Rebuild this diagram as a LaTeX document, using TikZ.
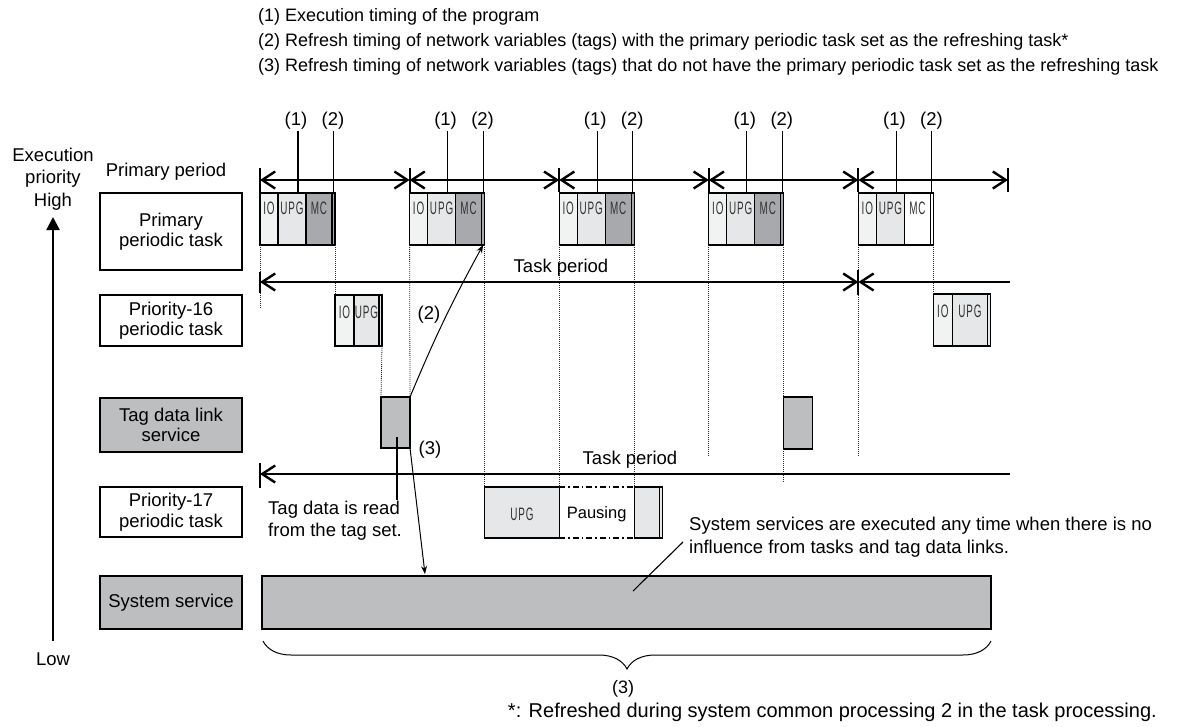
\documentclass[tikz,border=0pt]{standalone}
\usepackage{fontspec}
\setmainfont{Liberation Sans}
\newfontfamily\blkfont[FakeStretch=0.55,LetterSpace=5]{Liberation Sans}
\usetikzlibrary{arrows.meta,decorations.pathreplacing,calc}
\definecolor{cIO}{HTML}{F1F2F2}
\definecolor{cUPG}{HTML}{E6E7E8}
\definecolor{cMC}{HTML}{A7A9AC}
\definecolor{cGray}{HTML}{BCBEC0}
\tikzset{brb/.tip={Straight Barb[length=13pt,width=17pt]}}
\newcommand\pblock[3]{%
  \node[seg,fill=cIO,minimum width=18] (#1io) at (#2,193) {};
  \node[seg,fill=cUPG,minimum width=28] (#1upg) at (#2+18,193) {};
  \node[seg,fill=#3,minimum width=26] (#1mc) at (#2+46,193) {};
  \node[seg,fill=#3,minimum width=3] (#1st) at (#2+72,193) {};
  \node[blk] at ($(#1io.north)+(0,15)$) {IO};
  \node[blk] at ($(#1upg.north)+(0,15)$) {UPG};
  \node[blk] at ($(#1mc.north)+(0,15)$) {MC};
  \coordinate (#1a) at (#2+38,193);
  \coordinate (#1b) at (#2+73.5,193);
  \node[lbl] (#1l1) at (#2+36,121) {(1)};
  \node[lbl] (#1l2) at (#2+73,121) {(2)};
  \draw[thinln] (#1a |- #1l1.south) -- (#1a);
  \draw[thinln] (#1b |- #1l2.south) -- (#1b);
}
\begin{document}
\begin{tikzpicture}[x=1pt,y=-1pt,
  lbl/.style={font=\fontsize{18.5}{22.5}\selectfont, align=center, inner sep=1pt},
  hdr/.style={font=\fontsize{18}{21}\selectfont, inner sep=0pt},
  leftbox/.style={draw, line width=1.4pt, minimum width=142, align=center, font=\fontsize{18.5}{20.5}\selectfont, inner sep=0pt},
  seg/.style={draw, line width=1.3pt, inner sep=0pt, outer sep=0pt, anchor=north west, minimum height=52},
  blk/.style={font=\blkfont\fontsize{18}{18}\selectfont, text=black!80, inner sep=0pt},
  per/.style={line width=2.4pt, brb-brb},
  perl/.style={line width=2.4pt, brb-},
  tickln/.style={line width=2pt},
  dot/.style={line width=0.8pt, dash pattern=on 1pt off 1pt, black!85},
  thinln/.style={line width=1.1pt},
  thinarr/.style={line width=1pt, -{Stealth[length=8pt,width=6pt]}},
]
\useasboundingbox (0,0) rectangle (1180,726);

% header
\node[hdr, anchor=west] (h1) at (258,17) {(1) Execution timing of the program};
\node[hdr, anchor=west] (h2) at (258,42) {(2) Refresh timing of network variables (tags) with the primary periodic task set as the refreshing task*};
\node[hdr, anchor=west] (h3) at (258,67) {(3) Refresh timing of network variables (tags) that do not have the primary periodic task set as the refreshing task};

% left axis
\node[lbl] (high) at (53,179) {Execution\\priority\\High};
\node[lbl] (low) at (53,659) {Low};
\coordinate (axbot) at (53,641);
\coordinate (axtop) at (53,217);
\draw[line width=2.2pt, -{Triangle[length=13pt,width=13pt]}] (axbot) -- (axtop);
\node[lbl] (pp) at (166,172) {Primary period};

% left boxes
\node[leftbox, minimum height=77] (lb1) at (171,231.5) {Primary\\periodic task};
\node[leftbox, minimum height=51] (lb2) at (171,320.5) {Priority-16\\periodic task};
\node[leftbox, minimum height=54, fill=cGray] (lb3) at (171,425) {Tag data link\\service};
\node[leftbox, minimum height=50] (lb4) at (171,512) {Priority-17\\periodic task};
\node[leftbox, minimum height=53, fill=cGray] (lb5) at (171,602.5) {System service};

% primary period arrows
\foreach \i in {0,...,5} {
  \coordinate (pt\i) at (260+149.6*\i,180);
  \draw[tickln] ($(pt\i)+(0,-12)$) -- ($(pt\i)+(0,12)$);
}
\foreach \i/\j in {0/1,1/2,2/3,3/4,4/5} \draw[per] (pt\i) -- (pt\j);

% primary blocks
\pblock{b1}{260}{cMC}
\pblock{b2}{409.6}{cMC}
\pblock{b3}{559.2}{cMC}
\pblock{b4}{708.8}{cMC}
\pblock{b5}{858.4}{white}

% priority-16 blocks
\node[seg,fill=cIO,minimum width=19,minimum height=51] (p16aio) at (335,295) {};
\node[seg,fill=cUPG,minimum width=25,minimum height=51] (p16aupg) at (354,295) {};
\node[seg,fill=cUPG,minimum width=3,minimum height=51] (p16ast) at (379,295) {};
\node[blk] at ($(p16aio.north)+(0,17)$) {IO};
\node[blk] at ($(p16aupg.north)+(0,17)$) {UPG};
\node[seg,fill=cIO,minimum width=19,minimum height=52] (p16bio) at (933.4,294) {};
\node[seg,fill=cUPG,minimum width=35,minimum height=52] (p16bupg) at (952.4,294) {};
\node[seg,fill=cUPG,minimum width=3,minimum height=52] (p16bst) at (987.4,294) {};
\node[blk] at ($(p16bio.north)+(0,17)$) {IO};
\node[blk] at ($(p16bupg.north)+(0,17)$) {UPG};

% tag data link blocks
\node[seg,fill=cGray,minimum width=29,minimum height=51] (tag1) at (381,397) {};
\node[seg,fill=cGray,minimum width=29,minimum height=52] (tag2) at (783.8,397) {};

% priority-17 blocks
\node[seg,fill=cUPG,minimum width=74.6,minimum height=51] (p17upg) at (484.6,487) {};
\node[blk] at ($(p17upg.center)+(0,1.5)$) {UPG};
\node[seg,draw=none,minimum width=75,minimum height=51] (pause) at (559.2,487) {};
\draw[line width=1.3pt, dash pattern=on 6pt off 3pt on 1.5pt off 3pt] (pause.north west) -- (pause.north east);
\draw[line width=1.3pt, dash pattern=on 6pt off 3pt on 1.5pt off 3pt] (pause.south west) -- (pause.south east);
\node[font=\fontsize{16.5}{16.5}\selectfont, inner sep=0pt] at ($(pause.center)+(0,2)$) {Pausing};
\node[seg,fill=cUPG,minimum width=25,minimum height=51] (p17end) at (634.2,487) {};
\node[seg,fill=cUPG,minimum width=3,minimum height=51] (p17st) at (659.2,487) {};

% system service bar
\node[seg,fill=cGray,minimum width=729,minimum height=53] (sys) at (262,576) {};

% dotted guides
\draw[dot] (b1io.south west) -- (b1io.south west |- 0,308);
\draw[dot] (b1st.south east) -- (p16aio.north west);
\draw[dot] (p16ast.south east) -- (tag1.north west);
\draw[dot] (b2io.south west) -- (tag1.north east);
\draw[dot] (b2st.south east) -- (p17upg.north west);
\draw[dot] (b3io.south west) -- (pause.north west);
\draw[dot] (b3st.south east) -- (pause.north east);
\draw[dot] (b4io.south west) -- (b4io.south west |- 0,457);
\draw[dot] (b4st.south east) -- (tag2.north west);
\draw[dot] (tag2.south west) -- (tag2.south west |- 0,482);
\draw[dot] (b5io.south west) -- (b5io.south west |- 0,457);
\draw[dot] (b5st.south east) -- (p16bio.north west);

% priority-16 task period
\coordinate (tp0) at (260,282);
\coordinate (tp1) at (858.4,282);
\coordinate (tp2) at (1010,282);
\draw[tickln] ($(tp0)+(0,-10)$) -- ($(tp0)+(0,11)$);
\draw[tickln] ($(tp1)+(0,-12)$) -- ($(tp1)+(0,13)$);
\draw[per] (tp0) -- (tp1);
\draw[perl] (tp1) -- (tp2);
\node[lbl] (tpl) at (561,268) {Task period};

% priority-17 task period
\coordinate (tq0) at (260,474);
\coordinate (tq1) at (1010,474);
\draw[tickln] ($(tq0)+(0,-11)$) -- ($(tq0)+(0,14)$);
\draw[perl] (tq0) -- (tq1);
\node[lbl] (tql) at (630,460) {Task period};

% (2) and (3) arrows
\draw[thinarr] (tag1.north east) to[bend left=3] (b2st.south);
\node[lbl] (l2) at (429,315) {(2)};
\coordinate (sysin) at (425,574);
\draw[thinarr] (tag1.south east) -- (sysin);
\node[lbl] (l3) at (430,450) {(3)};

% tag data read note
\coordinate (tagin) at (397,437);
\node[lbl, align=left, anchor=north west, font=\fontsize{18.5}{21.5}\selectfont] (tagnote) at (267,500) {Tag data is read\\from the tag set.};
\draw[thinln] (tagin) -- (tagin |- tagnote.north);

% system services note
\node[lbl, align=left, anchor=west, font=\fontsize{18.5}{22.5}\selectfont] (sysnote) at (688,537) {System services are executed any time when there is no\\influence from tasks and tag data links.};
\coordinate (sysln1) at (633,591);
\coordinate (sysln2) at (683,542);
\draw[thinln] (sysln1) -- (sysln2);

% brace
\draw[line width=1pt, decorate, decoration={brace, amplitude=28pt}] (991,641) -- (263,641);
\node[hdr] (b3l) at (623,689) {(3)};

% footnote
\node[font=\fontsize{20}{22}\selectfont, inner sep=0pt, anchor=east] (fn) at (1157,712) {*: Refreshed during system common processing 2 in the task processing.};
\end{tikzpicture}
\end{document}
